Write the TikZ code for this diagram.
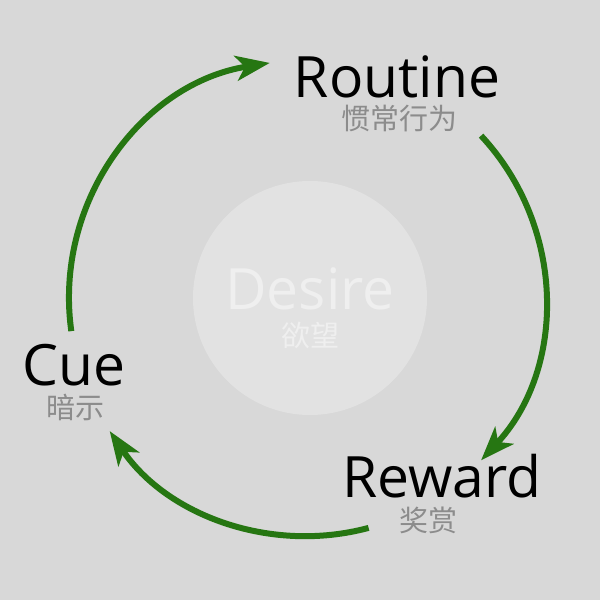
\documentclass[tikz,border=0pt]{standalone}
\usepackage{fontspec}
\setmainfont{Open Sans}
\newfontfamily\cjk{Noto Sans CJK SC}
\usetikzlibrary{arrows.meta,calc}
\definecolor{bgc}{RGB}{216,216,216}
\definecolor{circc}{RGB}{226,226,226}
\definecolor{desc}{RGB}{239,239,239}
\definecolor{grn}{RGB}{38,118,18}
\definecolor{cng}{RGB}{140,140,140}
\tikzset{
  title/.style={font=\fontsize{57}{57}\selectfont, text=black, inner sep=0pt, anchor=base, text depth=0pt},
  sub/.style={font=\cjk\fontsize{29}{29}\selectfont, text=cng, inner sep=0pt, anchor=base, text height=20pt, text depth=0pt},
  cycarrow/.style={draw=grn, line width=6pt, -{Stealth[length=34pt,width=25pt,inset=9pt]}}
}
\begin{document}
\begin{tikzpicture}[x=1pt,y=1pt]
\fill[bgc] (0,0) rectangle (600,600);
\useasboundingbox (0,0) rectangle (600,600);
\coordinate (O) at (307,302);
\fill[circc] (310,302) circle[radius=117];
\node[title, text=desc] (desire) at (310,290) {Desire};
\node[sub, text=desc] (desirecn) at (310,253) {欲望};
\node[title] (routine) at (397,502) {Routine};
\node[sub] (routinecn) at (399,470) {惯常行为};
\node[title] (cue) at (74,214) {Cue};
\node[sub] (cuecn) at (75,181) {暗示};
\node[title] (reward) at (442,102) {Reward};
\node[sub] (rewardcn) at (428,68) {奖赏};
\coordinate (a1) at ($(O)+(188:238)$);
\coordinate (a2) at ($(O)+(43:238)$);
\coordinate (a3) at ($(O)+(-75:238)$);
\draw[cycarrow] (a1) arc[start angle=188, end angle=99, radius=238];
\draw[cycarrow] (a2) arc[start angle=43, end angle=-43, radius=238];
\draw[cycarrow] (a3) arc[start angle=-75, end angle=-146, radius=238];
\end{tikzpicture}
\end{document}
